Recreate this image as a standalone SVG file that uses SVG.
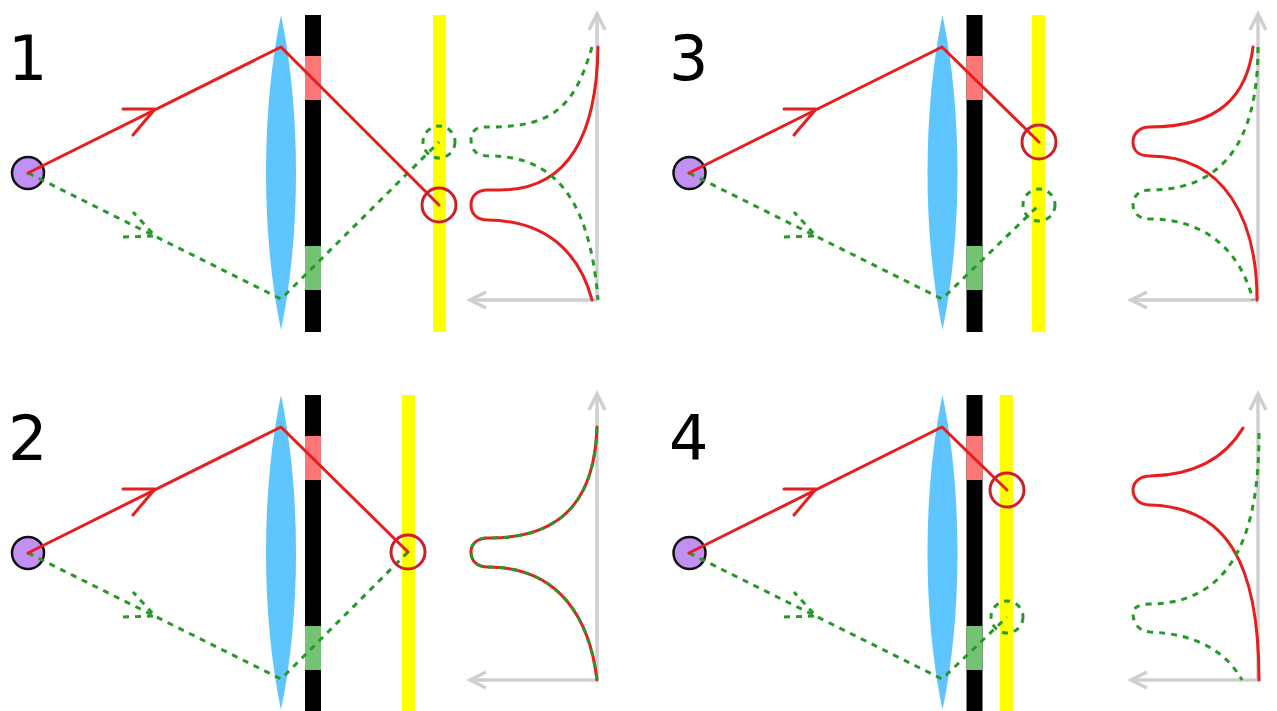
<svg xmlns="http://www.w3.org/2000/svg" width="1277" height="711" viewBox="0 0 1277 711">
<style>
.num{font-family:"DejaVu Sans",sans-serif;font-size:62px;fill:#000}
.src{fill:#c090f2;stroke:#111;stroke-width:2.5}
.lens{fill:#5fc5ff}
.bk{fill:#000}.pk{fill:#ff7676}.gn{fill:#74c274}
.ye{fill:#ffff00}
.r{fill:none;stroke:#e61e1e;stroke-width:3;stroke-linejoin:round;stroke-linecap:round}
.g{fill:none;stroke:#259a25;stroke-width:3;stroke-dasharray:6 6}
.rc{fill:none;stroke:#cc2026;stroke-width:3}
.gc{fill:none;stroke:#259a25;stroke-width:3;stroke-dasharray:6 6}
.ax{fill:none;stroke:#cfcfcf;stroke-width:3.5;marker-end:url(#h)}
</style>
<defs>
<marker id="h" markerUnits="userSpaceOnUse" markerWidth="26" markerHeight="26" refX="18" refY="13" orient="auto">
<path d="M2,5 L18,13 L2,21" fill="none" stroke="#cfcfcf" stroke-width="3.5"/>
</marker>
<g id="optics">
<path class="lens" d="M281,15 C261,110 261,235 281,330 C301,235 301,110 281,15 Z"/>
<rect class="bk" x="305" y="15" width="16" height="317"/>
<rect class="pk" x="305" y="56" width="16" height="44"/>
<rect class="gn" x="305" y="246" width="16" height="44"/>
<circle class="src" cx="28" cy="173" r="16"/>
</g>
<g id="rays">
<path class="r" d="M123,109 L155,109 L133,135"/>
<path class="g" d="M123,237 L155,236 L133,212"/>
</g>
</defs>
<g id="panel-1">
<use href="#optics"/>
<rect class="ye" x="433" y="15" width="13" height="317"/>
<text class="num" x="8" y="80">1</text>
</g>
<g id="panel-2">
<use href="#optics" y="380"/>
<rect class="ye" x="402" y="395" width="13" height="316"/>
<text class="num" x="8" y="460">2</text>
</g>
<g id="panel-3">
<use href="#optics" x="661.5"/>
<rect class="ye" x="1032" y="15" width="13" height="317"/>
<text class="num" x="669" y="80">3</text>
</g>
<g id="panel-4">
<use href="#optics" x="661.5" y="380"/>
<rect class="ye" x="1000" y="395" width="13" height="316"/>
<text class="num" x="669" y="460">4</text>
</g>
<g id="axes">
<path class="ax" d="M597,300 V14"/><path class="ax" d="M597,300 H470"/>
<path class="ax" d="M597,680 V394"/><path class="ax" d="M597,680 H470"/>
<path class="ax" d="M1258,300 V14"/><path class="ax" d="M1258,300 H1131"/>
<path class="ax" d="M1258,680 V394"/><path class="ax" d="M1258,680 H1131"/>
</g>
<g id="connectors">
<use href="#rays"/><use href="#rays" y="380"/><use href="#rays" x="661"/><use href="#rays" x="661" y="380"/>
<path class="g" d="M28,173 L281,299 L439,142"/>
<path class="r" d="M28,173 L281,47 L439,205"/>
<circle class="rc" cx="439" cy="205" r="17"/>
<circle class="gc" cx="439" cy="142" r="16"/>
<path class="g" d="M28,553 L281,679 L408,552"/>
<path class="r" d="M28,553 L281,427 L408,552"/>
<circle class="rc" cx="408" cy="552" r="17"/>
<path class="g" d="M689,173 L942,299 L1039,205"/>
<path class="r" d="M689,173 L942,47 L1039,142"/>
<circle class="rc" cx="1039" cy="142" r="17"/>
<circle class="gc" cx="1039" cy="205" r="16"/>
<path class="g" d="M689,553 L942,679 L1007,617"/>
<path class="r" d="M689,553 L942,427 L1007,490"/>
<circle class="rc" cx="1007" cy="490" r="17"/>
<circle class="gc" cx="1007" cy="617" r="16"/>
</g>
<g id="curves">
<path class="r" d="M598,47 C597,110 582,190 500,190 H488 C476,190 471,197 471,205 C471,213 476,220 488,220 C555,221 582,262 592,300"/>
<path class="g" d="M592,47 C575,105 555,127 490,127 H484 C476,127 471,132 471,139 C471,150 476,156 490,156 C555,156 590,200 598,300"/>
<path class="r" d="M597,427 C595,490 570,538 490,538 H488 C476,538 471,545 471,552 C471,560 476,567 488,567 C560,567 590,620 597,680"/>
<path class="g" d="M597,427 C595,490 570,538 490,538 H488 C476,538 471,545 471,552 C471,560 476,567 488,567 C560,567 590,620 597,680"/>
<path class="r" d="M1253,47 C1247,95 1220,127 1150,127 C1138,127 1133,135 1133,142 C1133,150 1138,156 1150,156 C1225,156 1257,220 1257,300"/>
<path class="g" d="M1258,47 C1258,115 1240,190 1150,190 C1138,190 1133,197 1133,205 C1133,212 1138,219 1150,219 C1205,219 1240,250 1253,300"/>
<path class="r" d="M1243,428 C1225,458 1195,475 1150,476 C1139,476 1133,483 1133,490 C1133,498 1139,505 1150,505 C1225,507 1259,560 1259,680"/>
<path class="g" d="M1259,433 C1259,520 1240,603 1150,604 C1139,604 1133,608 1133,613 C1133,624 1139,631 1150,632 C1195,634 1225,650 1242,680"/>
</g>
</svg>
